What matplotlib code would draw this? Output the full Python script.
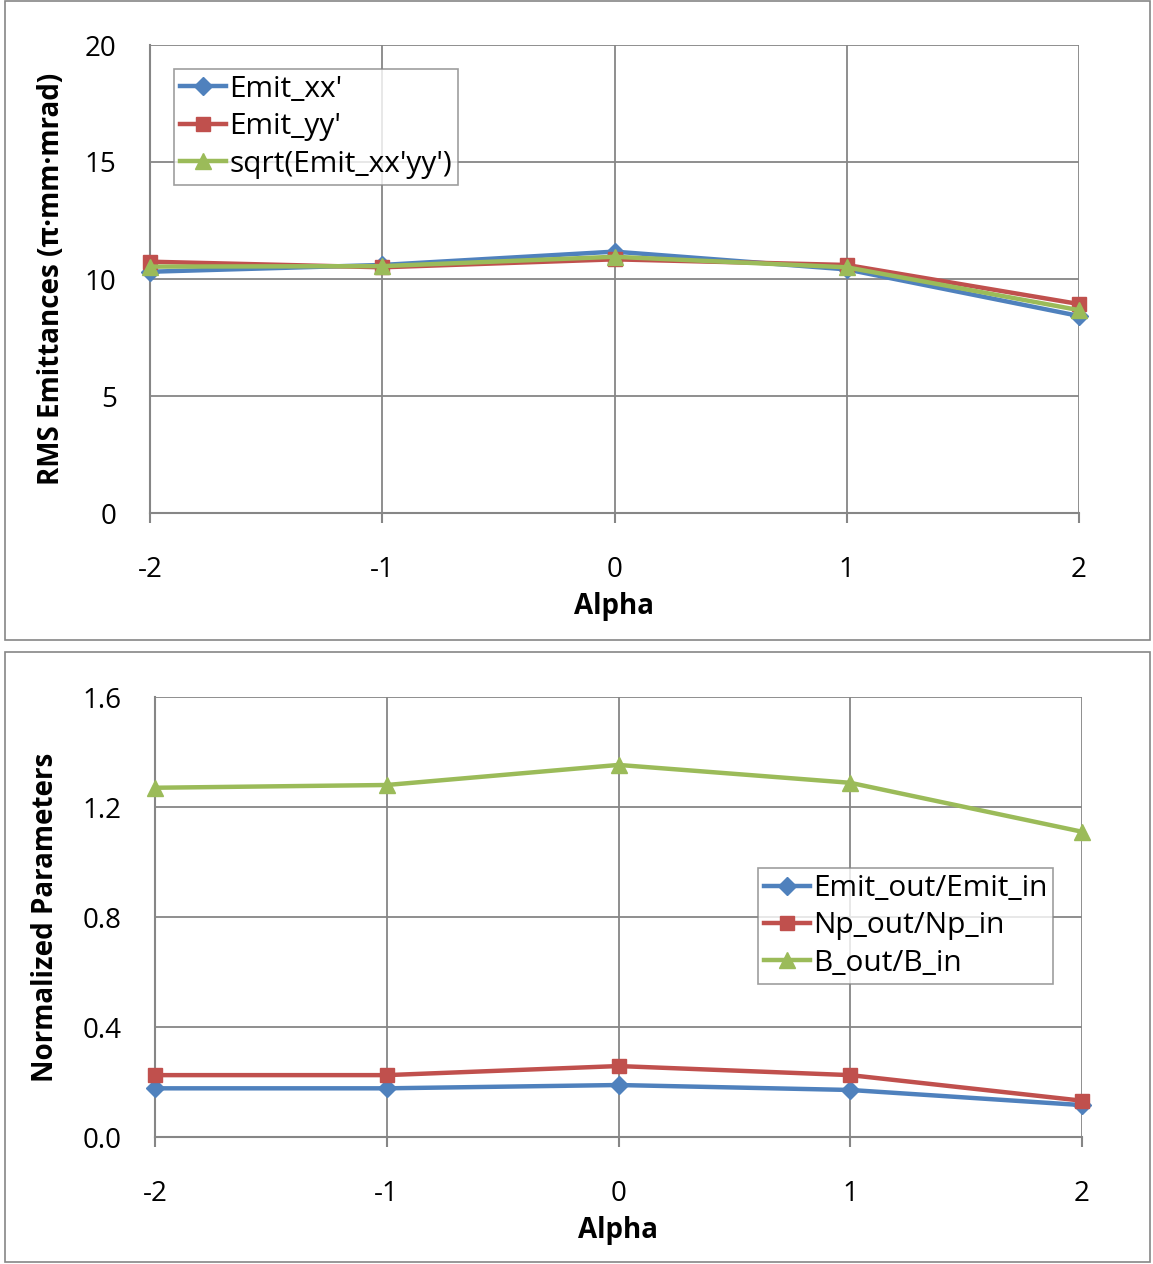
import matplotlib
matplotlib.use('Agg')
import matplotlib.pyplot as plt
from matplotlib.patches import Rectangle

alpha = [-2, -1, 0, 1, 2]
alpha_labels = ['-2', '-1', '0', '1', '2']

# top panel: RMS emittances
emit_xx = [10.31, 10.60, 11.17, 10.41, 8.42]
emit_yy = [10.74, 10.50, 10.84, 10.60, 8.93]
emit_sqrt = [10.53, 10.55, 10.95, 10.50, 8.67]

# bottom panel: normalized parameters
emit_ratio = [0.177, 0.177, 0.189, 0.171, 0.116]
np_ratio = [0.225, 0.225, 0.258, 0.225, 0.132]
b_ratio = [1.270, 1.280, 1.353, 1.288, 1.110]

blue, red, green = '#4F81BD', '#C0504D', '#9BBB59'
grid_c = '#868686'

plt.rcParams['font.family'] = ['Open Sans', 'DejaVu Sans']
plt.rcParams['axes.unicode_minus'] = False

W, H = 1153, 1264
fig = plt.figure(figsize=(W / 100, H / 100), dpi=100)

def box(x0, y0, x1, y1):
    # pixel coords (top-left origin) -> figure fraction
    return [x0 / W, 1 - y1 / H, (x1 - x0) / W, (y1 - y0) / H]

# panel frames
for (x0, y0, x1, y1) in [(5, 1, 1150, 640), (5, 652, 1150, 1262)]:
    fig.patches.append(Rectangle((x0 / W, 1 - y1 / H), (x1 - x0) / W, (y1 - y0) / H,
                                 transform=fig.transFigure, fill=False,
                                 edgecolor=grid_c, lw=1.2))

def style(ax, ylim, yticks, ylabels, ylabel):
    ax.set_xlim(-2, 2)
    ax.set_ylim(*ylim)
    ax.set_xticks(alpha)
    ax.set_xticklabels(alpha_labels)
    ax.set_yticks(yticks)
    ax.set_yticklabels(ylabels)
    ax.grid(True, color=grid_c, lw=1.3)
    ax.set_axisbelow(True)
    for s in ['top', 'right']:
        ax.spines[s].set_visible(False)
    for s in ['left', 'bottom']:
        ax.spines[s].set_color(grid_c)
        ax.spines[s].set_linewidth(1.5)
    ax.tick_params(axis='x', direction='out', color=grid_c, width=1.5,
                   length=7, labelsize=20, pad=24)
    ax.tick_params(axis='y', length=0, labelsize=20, pad=24)
    ax.set_xlabel('Alpha', fontsize=20, fontweight='bold', labelpad=6)
    ax.set_ylabel(ylabel, fontsize=20, fontweight='bold')

def series(ax, y, c, m, ms, label):
    ax.plot(alpha, y, color=c, lw=3.2, marker=m, ms=ms, label=label,
            clip_on=False, zorder=3)

def legend(ax, anchor):
    leg = ax.legend(loc='upper left', bbox_to_anchor=anchor, fontsize=21.5,
                    frameon=True, fancybox=False, edgecolor=grid_c,
                    handlelength=1.55, handletextpad=0.1, borderpad=0.2,
                    labelspacing=0.28, borderaxespad=0)
    leg.get_frame().set_linewidth(1.2)

ax1 = fig.add_axes(box(150, 45, 1079, 513))
series(ax1, emit_xx, blue, 'D', 9, "Emit_xx'")
series(ax1, emit_yy, red, 's', 10, "Emit_yy'")
series(ax1, emit_sqrt, green, '^', 11, "sqrt(Emit_xx'yy')")
style(ax1, (0, 20), [0, 5, 10, 15, 20], ['0', '5', '10', '15', '20'],
      'RMS Emittances (π·mm·mrad)')
ax1.yaxis.set_label_coords(-0.09, 0.5)
legend(ax1, (0.026, 0.949))

ax2 = fig.add_axes(box(155, 697, 1082, 1137))
series(ax2, emit_ratio, blue, 'D', 9, 'Emit_out/Emit_in')
series(ax2, np_ratio, red, 's', 10, 'Np_out/Np_in')
series(ax2, b_ratio, green, '^', 11, 'B_out/B_in')
style(ax2, (0, 1.6), [0, 0.4, 0.8, 1.2, 1.6], ['0.0', '0.4', '0.8', '1.2', '1.6'],
      'Normalized Parameters')
ax2.yaxis.set_label_coords(-0.102, 0.5)
legend(ax2, (0.65, 0.611))

fig.savefig('out.png', dpi=100)
